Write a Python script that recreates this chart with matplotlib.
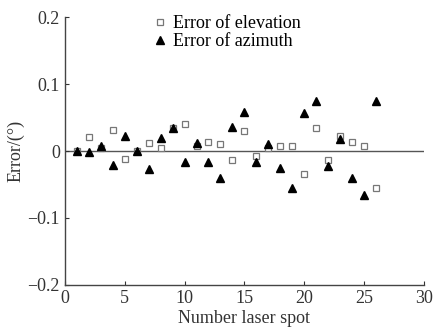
import numpy as np
import matplotlib
matplotlib.use("Agg")
import matplotlib.pyplot as plt

plt.rcParams['font.family'] = ['Liberation Serif', 'DejaVu Serif']

spot = list(range(1, 27))
err_elevation = [0.000, 0.021, 0.004, 0.031, -0.012, 0.000, 0.012, 0.004, 0.035, 0.040,
                 0.008, 0.013, 0.010, -0.014, 0.030, -0.008, 0.004, 0.007, 0.007, -0.035,
                 0.035, -0.014, 0.022, 0.013, 0.007, -0.055]
err_azimuth = [0.000, -0.002, 0.007, -0.021, 0.022, 0.000, -0.027, 0.019, 0.035, -0.016,
               0.012, -0.017, -0.040, 0.036, 0.058, -0.017, 0.010, -0.025, -0.055, 0.057,
               0.075, -0.022, 0.018, -0.040, -0.066, 0.075]

fig = plt.figure(figsize=(4.38, 3.29), dpi=100)
ax = fig.add_axes([0.148, 0.134, 0.82, 0.814])

ax.axhline(0, color='#555555', lw=1.0, zorder=1)
ax.plot(spot, err_elevation, 's', ms=4.5, mfc='white', mec='#777777', mew=0.9,
        label='Error of elevation', zorder=2)
ax.plot(spot, err_azimuth, '^', ms=5.5, color='black',
        label='Error of azimuth', zorder=3)

ax.set_xlim(0, 30)
ax.set_ylim(-0.2, 0.2)
ax.set_xticks([0, 5, 10, 15, 20, 25, 30])
ax.set_yticks([-0.2, -0.1, 0, 0.1, 0.2])
ax.set_yticklabels(['\u22120.2', '\u22120.1', '0', '0.1', '0.2'])
ax.tick_params(direction='in', length=3, labelsize=13, colors='#333333')
ax.spines['top'].set_visible(False)
ax.spines['right'].set_visible(False)
for s in ('left', 'bottom'):
    ax.spines[s].set_color('#444444')
    ax.spines[s].set_linewidth(1.0)

ax.set_xlabel('Number laser spot', fontsize=13, color='#333333', labelpad=2)
ax.set_ylabel('Error/(°)', fontsize=13, color='#333333', labelpad=2)

ax.legend(loc='upper left', bbox_to_anchor=(0.22, 1.035), frameon=False,
          fontsize=13, handletextpad=0.2, labelspacing=0.05, handlelength=1.0,
          borderaxespad=0)

fig.savefig('out.png', dpi=100)
